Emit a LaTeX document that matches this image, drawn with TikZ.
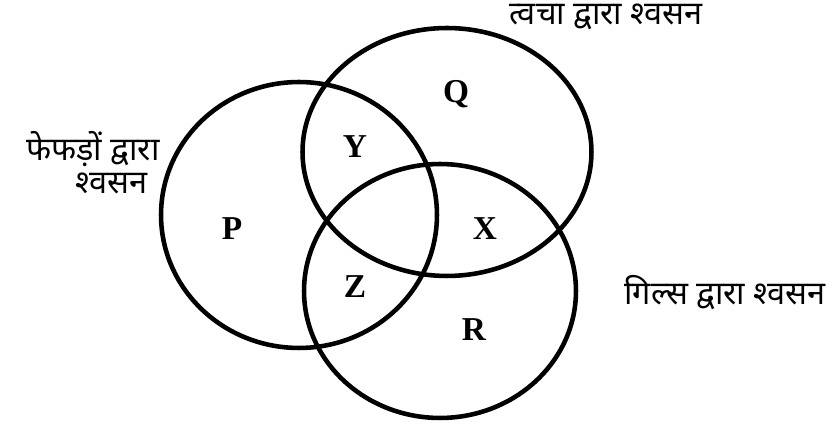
\documentclass[tikz,border=0pt]{standalone}
\usepackage{fontspec}
\setmainfont{Liberation Serif}
\newfontfamily\hindi[Script=Devanagari]{Noto Sans}
\usetikzlibrary{shapes.geometric}

\begin{document}
\begin{tikzpicture}[
  x=0.02cm, y=-0.02cm,
  ring/.style={draw, ellipse, line width=2.6pt, inner sep=0pt},
  region/.style={font=\fontsize{19}{19}\selectfont\bfseries},
  caption/.style={font=\hindi\fontsize{18.5}{19}\selectfont, inner sep=0pt}
]
\useasboundingbox (0,0) rectangle (840,425);
% the three sets
\node[ring, minimum width=5.52cm, minimum height=5.32cm] (lungs) at (299,215) {};
\node[ring, minimum width=5.78cm, minimum height=4.96cm] (skin) at (447,152) {};
\node[ring, minimum width=5.44cm, minimum height=5.08cm] (gills) at (440,291) {};
% region letters
\node[region] (p) at (232,229) {P};
\node[region] (q) at (456,94) {Q};
\node[region] (y) at (355,147) {Y};
\node[region] (x) at (485,229) {X};
\node[region] (z) at (355,287) {Z};
\node[region] (r) at (474,330) {R};
% set names
\node[caption] (skinlbl) at (606,17) {त्वचा द्वारा श्वसन};
\node[caption, align=right, anchor=north east] (lungslbl) at (160,131) {फेफड़ों द्वारा\\श्वसन\hspace*{7pt}};
\node[caption] (gillslbl) at (725,293) {गिल्स द्वारा श्वसन};
\end{tikzpicture}
\end{document}
